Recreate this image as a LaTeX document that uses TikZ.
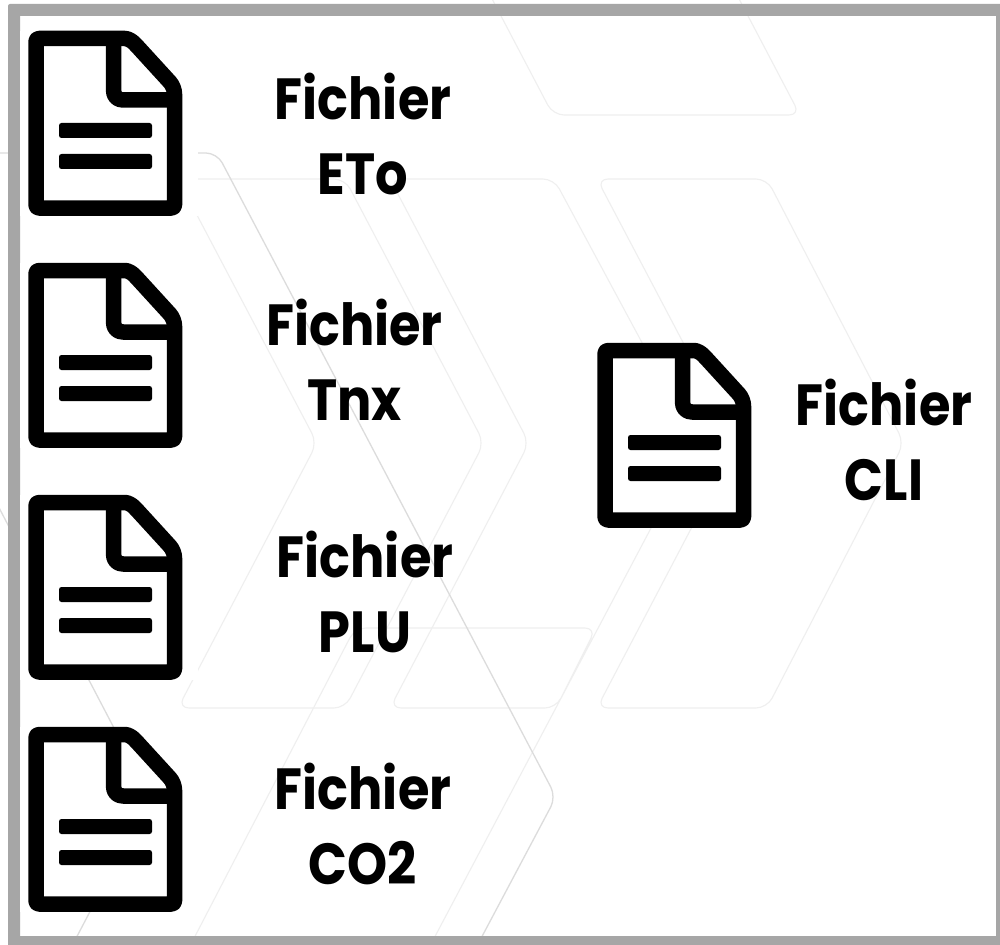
\documentclass[tikz,border=0pt]{standalone}
\usepackage{fontspec}
\setmainfont{Poppins}[FakeStretch=0.88]
\definecolor{framegrey}{HTML}{A6A6A6}
\definecolor{faintline}{HTML}{EFEFEF}
\definecolor{midline}{HTML}{DCDCDC}
\tikzset{
  faint/.style={draw=faintline,line width=1.1pt,rounded corners=11pt},
  mid/.style={draw=midline,line width=1.3pt,rounded corners=11pt},
  label/.style={font=\fontsize{58}{74.5}\selectfont\bfseries,align=center,inner sep=0pt,text=black,anchor=center},
  docicon/.pic={
    \fill[white] (20,31) rectangle (198,216);
    \draw[black,line width=15.5pt,line join=round,rounded corners=3pt]
      (36,38.5) -- (122,38.5) .. controls (128,38.5) and (132,41) .. (136,45)
      -- (168,80) .. controls (172.5,85) and (174.5,90) .. (174.5,97)
      -- (174.5,208) -- (36,208) -- cycle;
    \draw[black,line width=15.5pt,line join=round]
      (113.5,38.5) -- (113.5,90) .. controls (113.5,96) and (117,100) .. (123,100) -- (174.5,100);
    \fill[black,rounded corners=2.5pt] (59,123) rectangle (152,138);
    \fill[black,rounded corners=2.5pt] (59,154) rectangle (152,169);
  }
}
\begin{document}
\begin{tikzpicture}[x=1pt,y=-1pt]
\useasboundingbox (0,0) rectangle (1000,944);
\fill[white] (0,0) rectangle (1000,944);
\begin{scope}
\clip (0,0) rectangle (1000,944);
% faint background shapes
\draw[faint] (490,-5) -- (553,115) -- (800,115) -- (737,-5);
\draw[faint] (597,179) -- (767,179) -- (904,443) -- (767,708) -- (597,708) -- (736,443) -- cycle;
\draw[faint] (178,179) -- (345,179) -- (484,443) -- (345,708) -- (178,708) -- (317,443) -- cycle;
\draw[faint] (431,944) -- (696,443) -- (554,179) -- (390,179) -- (529,443) -- (390,708)
  -- (556,708) -- (596,628) -- (355,628) -- (191,944);
% darker background shapes
\draw[mid] (-5,153) -- (217,153) -- (556,797) -- (478,944);
\draw[mid] (-5,500) -- (150,797) -- (73,944);
\end{scope}
% frame
\fill[framegrey,even odd rule,rounded corners=2pt] (8,4) rectangle (1004,948)
  [sharp corners] (20,16) rectangle (996,936);
% icons
\pic at (0,0) {docicon};
\pic at (0,232) {docicon};
\pic at (0,464) {docicon};
\pic at (0,696) {docicon};
\pic at (569,312) {docicon};
% labels
\node[label] (eto) at (363,134) {Fichier\\ETo};
\node[label] (tnx) at (354.5,360) {Fichier\\Tnx};
\node[label] (plu) at (365,592) {Fichier\\PLU};
\node[label] (co2) at (363,824) {Fichier\\CO2};
\node[label] (cli) at (884,440) {Fichier\\CLI};
\end{tikzpicture}
\end{document}
